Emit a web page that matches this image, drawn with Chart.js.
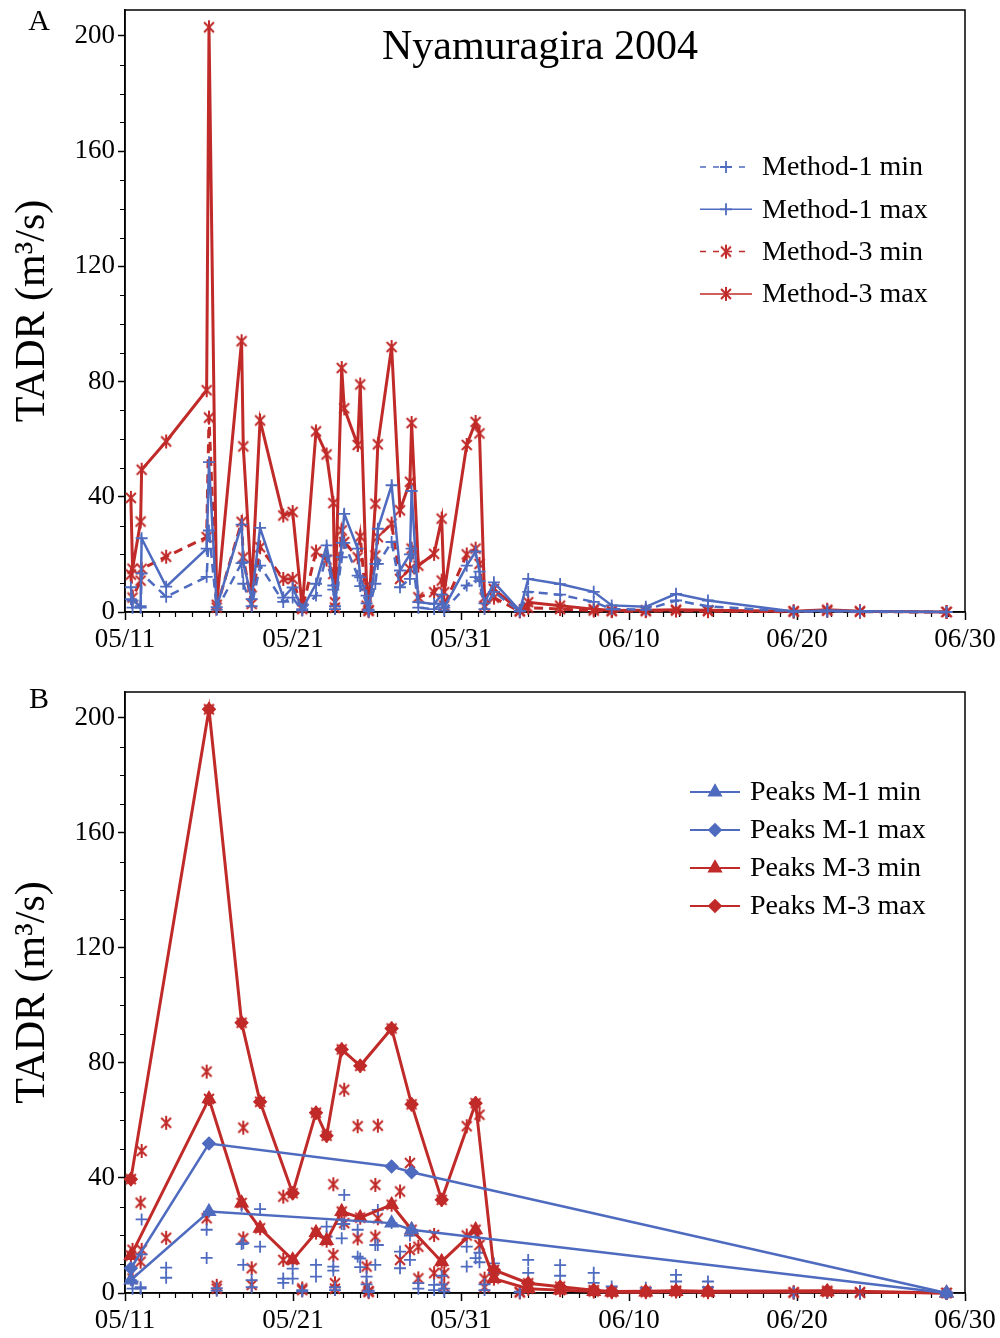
<!DOCTYPE html>
<html lang="en">
<head>
<meta charset="UTF-8">
<title>Nyamuragira 2004 TADR</title>
<script src="https://cdn.jsdelivr.net/npm/chart.js"></script>
<style>
  body { margin: 0; background: #fff; }
  canvas { display: block; }
</style>
</head>
<body>
<canvas id="chartA" width="1000" height="669"></canvas>
<canvas id="chartB" width="1000" height="669"></canvas>
<script>
// observation times, in days after 05/11
const days = [0.35, 0.45, 0.93, 0.99, 2.45, 4.86, 5.00, 5.46, 6.94, 7.04, 7.54, 8.04, 9.42, 9.98, 10.55,
  11.37, 12.0, 12.4, 12.5, 12.9, 13.05, 13.85, 14.0, 14.38, 14.5, 14.9, 15.05, 15.87, 16.37, 16.96,
  17.06, 17.46, 18.4, 18.85, 19.0, 20.34, 20.87, 21.1, 21.4, 21.96, 23.5, 24.0, 25.9, 27.9, 28.97,
  31.0, 32.8, 34.7, 39.8, 41.8, 43.75, 48.9];
const m1Min = [4.5, 1.5, 1.5, 13.4, 5.3, 12.2, 28.3, 0.8, 17, 9.8, 2, 16.1, 3.5, 5, 0.5,
  5.7, 19.6, 7.8, 1, 19, 24, 12.6, 9, 3, 0.3, 9.8, 16.7, 24.3, 8.6, 11.5,
  22, 1.5, 1, 3, 0.5, 9.2, 12.1, 10.7, 1, 7, 0.2, 7, 6, 3.5, 1,
  0.8, 4, 2, 0.1, 0.2, 0.1, 0];
const m1Max = [8.6, 4, 2, 25.6, 8.8, 22, 52, 1.7, 30.3, 17.3, 4.5, 29.2, 5, 8.5, 1,
  9.8, 23.1, 9.2, 2, 24, 34.1, 22, 12, 5.7, 0.8, 16.7, 28.9, 44, 14.4, 20,
  42, 3.4, 2.8, 6, 1.5, 16.1, 21, 14, 3, 10.3, 0.5, 11.5, 9.7, 7, 2.3,
  1.8, 6.3, 4, 0.2, 0.5, 0.3, 0];
const m3Min = [13, 5, 10.9, 15, 19.2, 26, 67.5, 1.5, 31.3, 19, 2.8, 22.5, 11.5, 11.5, 1,
  21, 18.2, 13.2, 1.5, 28.3, 24.3, 19, 26.2, 2.2, 0.3, 19.6, 26, 30.7, 11.5, 15,
  22, 5.1, 6.9, 10.9, 2.2, 20, 22, 16.7, 2, 5, 0.2, 1.5, 1, 0.5, 0.3,
  0.3, 0.5, 0.3, 0.1, 0.4, 0.1, 0];
const m3Max = [39.6, 15, 31.4, 49.4, 59.2, 77, 203, 2.5, 94, 57.5, 8.6, 66.5, 33.5, 34.7, 1.6,
  62.7, 54.7, 37.8, 3.4, 84.7, 70.7, 58, 79, 9.2, 0.7, 37.6, 58.2, 92, 35.3, 45.2,
  65.6, 16.1, 20.2, 32.4, 6.9, 58, 66, 62, 5, 8, 0.4, 3.4, 2.2, 1, 0.5,
  0.6, 0.8, 0.6, 0.3, 0.8, 0.3, 0];

// peaks (panel B)
const peakM1Days = [0.35, 5.0, 15.87, 17.06, 48.9];
const peakM1Min = [4.5, 28.3, 24.3, 22, 0];
const peakM1Max = [8.6, 52, 44, 42, 0];
const peakM3Days = [0.35, 5.0, 6.94, 8.04, 9.98, 11.37, 12.0, 12.9, 14.0, 15.87, 17.06, 18.85,
  20.87, 21.96, 24.0, 25.9, 27.9, 28.97, 31.0, 32.8, 34.7, 41.8, 48.9];
const peakM3Min = [13, 67.5, 31.3, 22.5, 11.5, 21, 18.2, 28.3, 26.2, 30.7, 22, 10.9,
  22, 5, 1.5, 1, 0.5, 0.3, 0.3, 0.5, 0.3, 0.4, 0];
const peakM3Max = [39.6, 203, 94, 66.5, 34.7, 62.7, 54.7, 84.7, 79, 92, 65.6, 32.4,
  66, 8, 3.4, 2.2, 1, 0.5, 0.6, 0.8, 0.6, 0.8, 0];

const xTickLabels = ['05/11', '05/21', '05/31', '06/10', '06/20', '06/30'];

const FONT = "'Liberation Serif', 'Times New Roman', serif";
const blue = '#4F6BBF';
const red = '#C02A28';

// asterisk marker: an x with a vertical bar
function asterisk(color, size, lw) {
  const c = document.createElement('canvas');
  c.width = size; c.height = size;
  const g = c.getContext('2d');
  const r = size / 2 - lw / 2;
  g.strokeStyle = color;
  g.lineWidth = lw;
  g.beginPath();
  [90, 45, 135].forEach(a => {
    const dx = Math.cos(a * Math.PI / 180) * r, dy = Math.sin(a * Math.PI / 180) * r;
    g.moveTo(size / 2 - dx, size / 2 - dy);
    g.lineTo(size / 2 + dx, size / 2 + dy);
  });
  g.stroke();
  return c;
}
const starMark = asterisk(red, 16, 2);

function pts(xs, ys) {
  return xs.map((x, i) => ({ x: x, y: ys[i] }));
}

function series(label, xs, ys, color, style, opts) {
  return Object.assign({
    label: label,
    data: pts(xs, ys),
    showLine: true,
    borderColor: color,
    backgroundColor: color,
    borderWidth: 2.5,
    pointStyle: style,
    pointRadius: 6,
    pointBorderWidth: 1.8,
    pointBorderColor: color,
    pointBackgroundColor: color,
    clip: false
  }, opts || {});
}

// frame, minor ticks, title texts and a line+marker legend
const decorPlugin = {
  id: 'decor',
  beforeDatasetsDraw(chart) {
    const { ctx, chartArea: a, scales: { x, y } } = chart;
    ctx.save();
    ctx.strokeStyle = '#000';
    ctx.lineWidth = 1.5;
    ctx.strokeRect(a.left, a.top, a.right - a.left, a.bottom - a.top);
    ctx.beginPath();
    for (let d = 1; d < 50; d++) {
      if (d % 10 === 0) continue;
      const px = Math.round(x.getPixelForValue(d)) + 0.5;
      ctx.moveTo(px, a.bottom);
      ctx.lineTo(px, a.bottom + 5);
    }
    for (let v = 10; v <= 200; v += 10) {
      if (v % 40 === 0) continue;
      const py = Math.round(y.getPixelForValue(v)) + 0.5;
      ctx.moveTo(a.left, py);
      ctx.lineTo(a.left - 5, py);
    }
    ctx.lineWidth = 1.2;
    ctx.stroke();
    ctx.restore();
  },
  afterDraw(chart, args, opts) {
    const ctx = chart.ctx;
    ctx.save();
    ctx.fillStyle = '#000';
    ctx.textBaseline = 'middle';
    ctx.textAlign = 'center';
    ctx.font = '30px ' + FONT;
    ctx.fillText(opts.letter, 39, opts.letterY);
    if (opts.title) {
      ctx.font = '42px ' + FONT;
      ctx.fillText(opts.title, 540, 48);
    }
    const lg = opts.legend;
    lg.items.forEach((idx, i) => {
      const ds = chart.data.datasets[idx];
      const cy = lg.y + i * lg.gap;
      ctx.save();
      ctx.strokeStyle = ds.borderColor;
      ctx.lineWidth = lg.lineWidth;
      ctx.setLineDash(ds.borderDash ? lg.dash : []);
      ctx.beginPath();
      ctx.moveTo(lg.x, cy);
      ctx.lineTo(lg.x + lg.len, cy);
      ctx.stroke();
      ctx.setLineDash([]);
      ctx.fillStyle = ds.pointBackgroundColor;
      ctx.strokeStyle = ds.pointBorderColor;
      ctx.lineWidth = ds.pointBorderWidth;
      Chart.helpers.drawPoint(ctx, {
        pointStyle: ds.pointStyle, radius: ds.pointRadius, rotation: 0, borderWidth: ds.pointBorderWidth
      }, lg.x + lg.len / 2, cy);
      ctx.restore();
      ctx.fillStyle = '#000';
      ctx.textAlign = 'left';
      ctx.font = lg.font + 'px ' + FONT;
      ctx.fillText(ds.label, lg.x + lg.len + lg.textGap, cy + 1);
    });
    ctx.restore();
  }
};

function makeOptions(padTop, axisHeight, decor) {
  return {
    responsive: false,
    animation: false,
    layout: { padding: { top: padTop, right: 35, bottom: 0, left: 0 } },
    plugins: { legend: { display: false }, tooltip: { enabled: false }, decor: decor },
    scales: {
      x: {
        type: 'linear', min: 0, max: 50,
        ticks: {
          stepSize: 10, color: '#000', padding: 4, maxRotation: 0,
          font: { family: FONT, size: 27 },
          callback: v => xTickLabels[Math.round(v / 10)]
        },
        grid: { drawOnChartArea: false, drawTicks: true, tickLength: 8, tickColor: '#000', tickWidth: 1.5 },
        border: { display: true, color: '#000', width: 1.5 },
        afterFit: s => { s.height = axisHeight; s.paddingLeft = 0; s.paddingRight = 0; }
      },
      y: {
        type: 'linear', min: 0, max: 209,
        ticks: {
          stepSize: 40, includeBounds: false, color: '#000', padding: 3,
          font: { family: FONT, size: 27 }
        },
        grid: { drawOnChartArea: false, drawTicks: true, tickLength: 7, tickColor: '#000', tickWidth: 1.5 },
        border: { display: true, color: '#000', width: 1.5 },
        title: {
          display: true, text: 'TADR (m³/s)', color: '#000',
          font: { family: FONT, size: 42 }, padding: { top: 8, bottom: 0 }
        },
        afterFit: s => { s.width = 125; s.paddingTop = 0; s.paddingBottom = 0; }
      }
    }
  };
}

const dash = [9, 6];

new Chart(document.getElementById('chartA'), {
  type: 'scatter',
  data: {
    datasets: [
      series('Method-1 min', days, m1Min, blue, 'cross', { borderDash: dash }),
      series('Method-1 max', days, m1Max, blue, 'cross'),
      series('Method-3 min', days, m3Min, red, starMark, { borderDash: dash, borderWidth: 3 }),
      series('Method-3 max', days, m3Max, red, starMark, { borderWidth: 3 })
    ]
  },
  options: makeOptions(10, 57, {
    letter: 'A', letterY: 22, title: 'Nyamuragira 2004',
    legend: { items: [0, 1, 2, 3], x: 700, y: 167, gap: 42.3, len: 52, textGap: 10, font: 28,
      lineWidth: 1.5, dash: [6, 7] }
  }),
  plugins: [decorPlugin]
});

new Chart(document.getElementById('chartB'), {
  type: 'scatter',
  data: {
    datasets: [
      series('Peaks M-1 min', peakM1Days, peakM1Min, blue, 'triangle', { pointRadius: 7 }),
      series('Peaks M-1 max', peakM1Days, peakM1Max, blue, 'rectRot', { pointRadius: 6 }),
      series('Peaks M-3 min', peakM3Days, peakM3Min, red, 'triangle', { pointRadius: 7, borderWidth: 3 }),
      series('Peaks M-3 max', peakM3Days, peakM3Max, red, 'rectRot', { pointRadius: 6, borderWidth: 3 }),
      series('Method-1 min', days, m1Min, blue, 'cross', { showLine: false }),
      series('Method-1 max', days, m1Max, blue, 'cross', { showLine: false }),
      series('Method-3 min', days, m3Min, red, starMark, { showLine: false }),
      series('Method-3 max', days, m3Max, red, starMark, { showLine: false })
    ]
  },
  options: makeOptions(23, 45, {
    letter: 'B', letterY: 31,
    legend: { items: [0, 1, 2, 3], x: 690, y: 123, gap: 38, len: 50, textGap: 10, font: 28,
      lineWidth: 2, dash: [6, 7] }
  }),
  plugins: [decorPlugin]
});
</script>
</body>
</html>
